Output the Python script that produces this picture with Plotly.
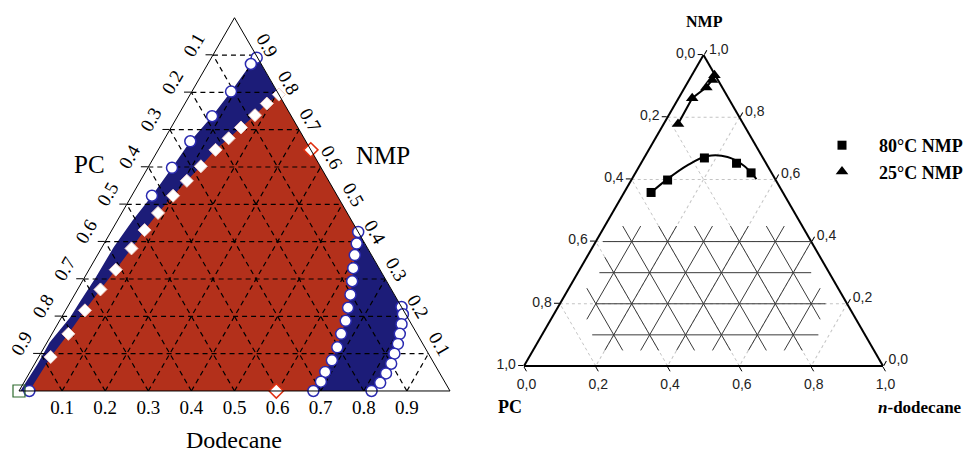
import plotly.graph_objects as go

# ================= LEFT DIAGRAM (a = NMP, b = PC, c = Dodecane) =================
# outer boundary of the blue band on the PC side (top -> bottom)
band_left_a = [0.902, 0.876, 0.802, 0.736, 0.669, 0.598, 0.523, 0.457, 0.386, 0.302, 0.241, 0.197, 0.130, 0.073, 0.0]
band_left_c = [0.098, 0.100, 0.091, 0.080, 0.063, 0.056, 0.047, 0.035, 0.027, 0.026, 0.022, 0.020, 0.006, 0.007, 0.003]

# open circles on the outer PC-side curve
circ_left_a = [0.893, 0.876, 0.802, 0.736, 0.669, 0.598, 0.523, 0.0]
circ_left_c = [0.105, 0.100, 0.091, 0.080, 0.063, 0.056, 0.047, 0.024]

# white diamonds on the inner PC-side curve (bottom -> top)
dia_left_a = [0.0, 0.091, 0.153, 0.216, 0.272, 0.325, 0.382, 0.431, 0.477, 0.523, 0.563, 0.602, 0.646, 0.677, 0.706, 0.739, 0.770, 0.794]
dia_left_c = [0.024, 0.028, 0.038, 0.045, 0.053, 0.062, 0.070, 0.076, 0.084, 0.096, 0.108, 0.121, 0.133, 0.148, 0.162, 0.178, 0.190, 0.206]

# lower end of the red region on the NMP edge
red_edge_a = [0.452]
red_edge_c = [0.548]

# inner dodecane-side curve (top -> bottom)
circ_in_right_a = [0.426, 0.395, 0.364, 0.329, 0.294, 0.258, 0.223, 0.188, 0.153, 0.117, 0.082, 0.051, 0.025, 0.0]
circ_in_right_c = [0.574, 0.586, 0.597, 0.611, 0.626, 0.640, 0.652, 0.664, 0.671, 0.680, 0.685, 0.685, 0.688, 0.683]

# outer dodecane-side curve (top -> bottom)
circ_out_right_a = [0.225, 0.2055, 0.179, 0.153, 0.126, 0.100, 0.073, 0.047, 0.022, 0.0]
circ_out_right_c = [0.775, 0.788, 0.798, 0.807, 0.816, 0.821, 0.827, 0.828, 0.827, 0.818]

# red-outlined diamonds and green square
red_dia_a = [0.646, 0.0]
red_dia_c = [0.354, 0.597]
green_sq_a = [0.0]
green_sq_c = [0.0]

left_tick_vals = [0.1, 0.2, 0.3, 0.4, 0.5, 0.6, 0.7, 0.8, 0.9]
left_tick_text = ["0.9", "0.8", "0.7", "0.6", "0.5", "0.4", "0.3", "0.2", "0.1"]

# ================= RIGHT DIAGRAM =================
sq80_a = [0.558, 0.598, 0.669, 0.652, 0.621]
sq80_c = [0.075, 0.101, 0.168, 0.266, 0.322]
curve80_a = [0.558, 0.601, 0.646, 0.675, 0.672, 0.643, 0.601]
curve80_c = [0.075, 0.099, 0.133, 0.174, 0.231, 0.292, 0.347]
tri25_a = [0.778, 0.861, 0.896, 0.920, 0.935]
tri25_c = [0.040, 0.038, 0.060, 0.064, 0.063]

right_tick_vals = [0.0, 0.2, 0.4, 0.6, 0.8, 1.0]
right_tick_text = ["1,0", "0,8", "0,6", "0,4", "0,2", "0,0"]

# inner tie-line grid: horizontal (constant NMP) segments
hgrid_a = [0.1, 0.2, 0.3, 0.4]
hgrid_c0 = [0.14, 0.10, 0.06, 0.02]
hgrid_c1 = [0.77, 0.74, 0.65, 0.60]
# constant-dodecane segments
cgrid_c = [0.1, 0.2, 0.3, 0.4, 0.5, 0.6, 0.7]
cgrid_a0 = [0.15, 0.05, 0.05, 0.05, 0.05, 0.05, 0.05]
cgrid_a1 = [0.45, 0.45, 0.45, 0.45, 0.45, 0.40, 0.25]
# constant-PC segments
bgrid_b = [0.1, 0.2, 0.3, 0.4, 0.5, 0.6, 0.7]
bgrid_a0 = [0.15, 0.05, 0.05, 0.05, 0.05, 0.05, 0.05]
bgrid_a1 = [0.45, 0.45, 0.45, 0.45, 0.45, 0.35, 0.25]

NAVY = "#1c1c78"
RED = "#b3301b"

fig = go.Figure()


def pts(a, c):
    return dict(a=a, c=c, b=[max(0.0, 1 - x - y) for x, y in zip(a, c)])


# ---- left: blue union region, then red region on top
blue_a = band_left_a + circ_out_right_a[::-1]
blue_c = band_left_c + circ_out_right_c[::-1]
fig.add_trace(go.Scatterternary(**pts(blue_a, blue_c), mode="lines", fill="toself", fillcolor=NAVY,
                                line=dict(width=0, color=NAVY), subplot="ternary",
                                showlegend=False, hoverinfo="skip"))
red_a = dia_left_a + red_edge_a + circ_in_right_a
red_c = dia_left_c + red_edge_c + circ_in_right_c
fig.add_trace(go.Scatterternary(**pts(red_a, red_c), mode="lines", fill="toself", fillcolor=RED,
                                line=dict(width=0, color=RED), subplot="ternary",
                                showlegend=False, hoverinfo="skip"))

# ---- left: dashed grid drawn over the filled regions
la, lb, lc = [], [], []
for v in left_tick_vals:
    la += [v, v, None, 0, 1 - v, None, 0, 1 - v, None]
    lb += [1 - v, 0, None, v, v, None, 1 - v, 0, None]
    lc += [0, 1 - v, None, 1 - v, 0, None, v, v, None]
fig.add_trace(go.Scatterternary(a=la, b=lb, c=lc, mode="lines", connectgaps=False,
                                line=dict(color="black", width=1.2, dash="5px,4px"),
                                subplot="ternary", showlegend=False, hoverinfo="skip"))

circle_marker = dict(symbol="circle", size=11, color="white", line=dict(color="#2a2ab0", width=1.5))
for aa, cc in [(circ_left_a, circ_left_c), (circ_in_right_a, circ_in_right_c), (circ_out_right_a, circ_out_right_c)]:
    fig.add_trace(go.Scatterternary(**pts(aa, cc), mode="markers", marker=circle_marker,
                                    subplot="ternary", showlegend=False, cliponaxis=False))
fig.add_trace(go.Scatterternary(**pts(dia_left_a[1:], dia_left_c[1:]), mode="markers",
                                marker=dict(symbol="diamond", size=10, color="white",
                                            line=dict(color="#f0d0c8", width=1)),
                                subplot="ternary", showlegend=False, cliponaxis=False))
fig.add_trace(go.Scatterternary(**pts(red_dia_a, red_dia_c), mode="markers",
                                marker=dict(symbol="diamond", size=11, color="white",
                                            line=dict(color="#e03010", width=1.5)),
                                subplot="ternary", showlegend=False, cliponaxis=False))
fig.add_trace(go.Scatterternary(**pts(green_sq_a, green_sq_c), mode="markers",
                                marker=dict(symbol="square-open", size=12, color="#2e6b2e",
                                            line=dict(width=1.2)),
                                subplot="ternary", showlegend=False, cliponaxis=False))

# ---- right: inner grid
ga, gc = [], []
for a, c0, c1 in zip(hgrid_a, hgrid_c0, hgrid_c1):
    ga += [a, a, None]
    gc += [c0, c1, None]
for c, a0, a1 in zip(cgrid_c, cgrid_a0, cgrid_a1):
    ga += [a0, a1, None]
    gc += [c, c, None]
for b, a0, a1 in zip(bgrid_b, bgrid_a0, bgrid_a1):
    ga += [a0, a1, None]
    gc += [1 - b - a0, 1 - b - a1, None]
gb = [None if x is None else 1 - x - y for x, y in zip(ga, gc)]
fig.add_trace(go.Scatterternary(a=ga, b=gb, c=gc, mode="lines", connectgaps=False,
                                line=dict(color="#3a3a3a", width=1), subplot="ternary2",
                                showlegend=False, hoverinfo="skip"))

fig.add_trace(go.Scatterternary(**pts(curve80_a, curve80_c), mode="lines",
                                line=dict(color="black", width=2, shape="spline"),
                                subplot="ternary2", showlegend=False))
fig.add_trace(go.Scatterternary(**pts(tri25_a, tri25_c), mode="lines",
                                line=dict(color="black", width=2),
                                subplot="ternary2", showlegend=False))
fig.add_trace(go.Scatterternary(**pts(sq80_a, sq80_c), mode="markers", name="80°C NMP",
                                marker=dict(symbol="square", size=9, color="black"),
                                subplot="ternary2", cliponaxis=False))
fig.add_trace(go.Scatterternary(**pts(tri25_a, tri25_c), mode="markers", name="25°C NMP",
                                marker=dict(symbol="triangle-up", size=11, color="black"),
                                subplot="ternary2", cliponaxis=False))

SERIF = "Liberation Serif"
left_axis = dict(tickvals=left_tick_vals, ticktext=left_tick_text, showgrid=False,
                 linecolor="black", linewidth=1, layer="above traces",
                 tickfont=dict(family=SERIF, size=19, color="black"), title=dict(text=""))
right_axis = dict(tickvals=right_tick_vals, ticktext=right_tick_text, showgrid=True,
                  gridcolor="#c4c4c4", griddash="dot", gridwidth=1,
                  linecolor="black", linewidth=2, ticks="outside", ticklen=5,
                  tickcolor="black", layer="below traces",
                  tickfont=dict(family="Liberation Sans", size=14, color="#222"),
                  title=dict(text=""))

W, H = 972, 452


def note(text, x, y, size):
    return dict(text=text, x=x / W, y=1 - y / H, xref="paper", yref="paper", showarrow=False,
                xanchor="center", yanchor="middle",
                font=dict(family=SERIF, size=size, color="black"))


fig.update_layout(
    width=W, height=H, margin=dict(l=0, r=0, t=0, b=0),
    paper_bgcolor="white", plot_bgcolor="white",
    ternary=dict(domain=dict(x=[19 / W, 450 / W], y=[1 - 391 / H, 1 - 17.7 / H]), sum=1,
                 bgcolor="white",
                 aaxis=dict(left_axis, tickangle=-60, ticks="outside", ticklen=7, tickcolor="black"),
                 baxis=dict(left_axis, tickangle=0),
                 caxis=dict(left_axis, tickangle=60)),
    ternary2=dict(domain=dict(x=[524 / W, 883 / W], y=[1 - 366 / H, 1 - 55 / H]), sum=1,
                  bgcolor="white",
                  aaxis=dict(right_axis), baxis=dict(right_axis), caxis=dict(right_axis)),
    legend=dict(x=805 / W, y=1 - 127 / H, xanchor="left", yanchor="top", itemwidth=64,
                font=dict(family=SERIF, size=18, color="black", weight="bold"),
                bgcolor="rgba(0,0,0,0)"),
    annotations=[
        note("PC", 89, 165, 25),
        note("NMP", 383, 155, 25),
        note("Dodecane", 234, 440, 24),
        note("<b>NMP</b>", 704, 21, 16),
        note("<b>PC</b>", 510, 407, 18),
        note("<b><i>n</i>-dodecane</b>", 920, 407, 17),
    ],
)

fig.write_html("out.html")
